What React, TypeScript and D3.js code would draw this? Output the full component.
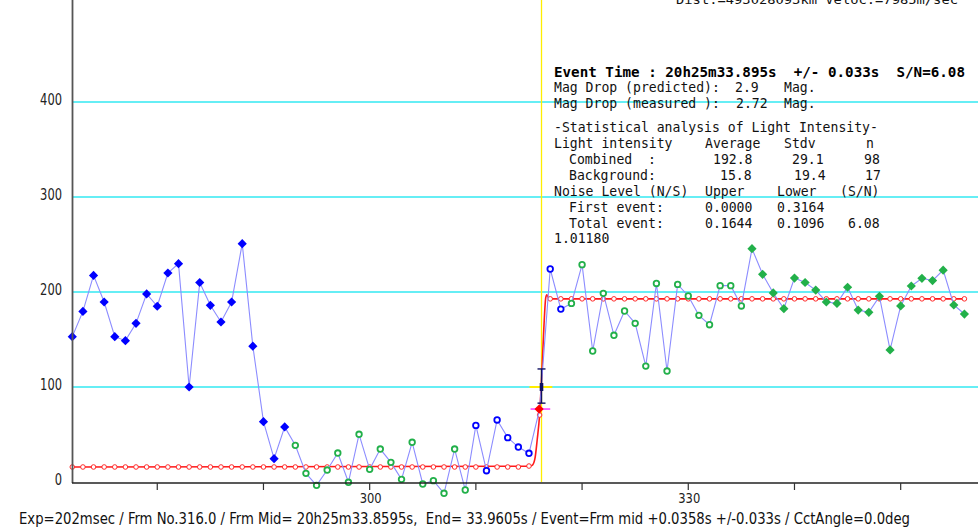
import React from "react";
import * as d3 from "d3";

const W = 978;
const H = 528;

const firstFrame = 272;
const values: number[] = [
  153, 179.6, 217.5, 189.5, 153, 148.8, 167, 198, 185, 220,
  229.8, 100, 210, 186, 168.4, 189.5, 250.9, 143, 63.5, 24.6,
  58, 38.6, 9.1, -3.5, 12.6, 30.5, -0.3, 50.2, 13.3, 34.7,
  20.7, 2.8, 41.8, -2.1, 1.4, -11.9, 34.7, -8.4, 59.6, 11.9,
  65.3, 46.7, 36.8, 30.2, 76.8, 224.2, 182, 188, 228.8, 137.9,
  198.6, 154.4, 180, 167, 122, 209, 116.8, 208, 195.8, 175.4,
  165.6, 206.7, 206.7, 185.3, 245.6, 218.6, 199, 182.5, 214.7, 210,
  202, 189.5, 188, 205, 181, 178.6, 195.4, 139, 185.3, 206.3,
  214.4, 212, 223, 186.3, 176.8,
];
const frames = values.map((_, i) => firstFrame + i);

// marker groups by frame range
const blueFilledRange = [272, 292];
const blueOpenRange = [310, 318];
const greenFilledRange = [336, 356];
const eventDataFrame = 316;

// model light curve
const baseLevel = 15.8;
const topLevel = 192.8;
const modelCurve: [number, number][] = [
  [272, 15.8], [315, 16.6], [315.3, 17.5], [315.55, 24], [315.78, 45],
  [316, 70.5], [316.2, 112], [316.4, 162], [316.58, 194], [316.68, 197],
  [316.85, 193.5], [317, 192.8], [356, 192.8],
];
const modelCircles: number[] = frames.map((f) =>
  f < 315 ? baseLevel : f === 315 ? 16.8 : f === 316 ? 70.5 : topLevel
);

const eventFrame = 316.18;
const errorBar = { low: 83, mid: 100, high: 119 };
const midLevelSpan = [315.05, 317.2];
const measuredSpan = [315.15, 317.0];

const yTicks = [0, 100, 200, 300, 400];
const gridLines = [100, 200, 300, 400];
const xTicks = [280, 290, 300, 310, 320, 330, 340, 350];
const xLabels = [300, 330];

const topInfo = "Dist.=493028093km Veloc.=7985m/sec";
const eventTitle = "Event Time : 20h25m33.895s  +/- 0.033s  S/N=6.08";
const infoRows: { y: number; cells: [string, number][] }[] = [
  { y: 92, cells: [["Mag Drop (predicted):", 554], ["2.9", 735], ["Mag.", 784]] },
  { y: 108, cells: [["Mag Drop (measured ):", 554], ["2.72", 736], ["Mag.", 784]] },
  { y: 132, cells: [["-Statistical analysis of Light Intensity-", 554]] },
  { y: 148, cells: [["Light intensity", 554], ["Average", 705], ["Stdv", 784], ["n", 866]] },
  { y: 164, cells: [["Combined  :", 569], ["192.8", 713], ["29.1", 792], ["98", 864]] },
  { y: 180, cells: [["Background:", 569], ["15.8", 720], ["19.4", 794], ["17", 865]] },
  { y: 196, cells: [["Noise Level (N/S)", 554], ["Upper", 705], ["Lower", 777], ["(S/N)", 840]] },
  { y: 212, cells: [["First event:", 569], ["0.0000", 705], ["0.3164", 777]] },
  { y: 228, cells: [["Total event:", 569], ["0.1644", 705], ["0.1096", 777], ["6.08", 848]] },
  { y: 243, cells: [["1.01180", 554]] },
];
const bottomText =
  "Exp=202msec / Frm No.316.0 / Frm Mid= 20h25m33.8595s,  End= 33.9605s / Event=Frm mid +0.0358s +/-0.033s / CctAngle=0.0deg";

const x = d3.scaleLinear().domain([272, 357.28]).range([72.3, 978]);
const y = d3.scaleLinear().domain([0, 400]).range([482, 102]);

const inR = (f: number, r: number[]) => f >= r[0] && f <= r[1];

const MONO = "'DejaVu Sans Mono', monospace";
const NARROW = "'Liberation Sans Narrow', 'DejaVu Sans Condensed', 'Liberation Sans', sans-serif";
const CW = 7.9;

function Diamond({ cx, cy, fill }: { cx: number; cy: number; fill: string }) {
  const s = 4.6;
  return (
    <path
      d={`M${cx},${cy - s}L${cx + s},${cy}L${cx},${cy + s}L${cx - s},${cy}Z`}
      fill={fill}
    />
  );
}

export default function App() {
  const dataLine = d3
    .line<number>()
    .x((_, i) => x(frames[i]))
    .y((v) => y(v))(values) as string;
  const modelLine = d3
    .line<[number, number]>()
    .x((d) => x(d[0]))
    .y((d) => y(d[1]))
    .curve(d3.curveMonotoneX)(modelCurve) as string;

  const blue = "#0000ff";
  const green = "#22b04a";

  return (
    <svg
      width={W}
      height={H}
      style={{ position: "absolute", left: 0, top: 0, background: "#fff" }}
    >
      <rect x={0} y={0} width={W} height={H} fill="#fff" />
      {gridLines.map((g) => (
        <line key={g} x1={73} x2={W} y1={y(g)} y2={y(g)} stroke="#33e8f2" strokeWidth={1.7} />
      ))}
      {/* event vertical */}
      <line x1={x(eventFrame)} x2={x(eventFrame)} y1={0} y2={482} stroke="#ffee00" strokeWidth={1.3} />

      {/* model */}
      <path d={modelLine} fill="none" stroke="#ff1a1a" strokeWidth={1.6} />
      {frames.map((f, i) => (
        <circle key={"m" + f} cx={x(f)} cy={y(modelCircles[i])} r={2.3} fill="#fff" stroke="#ff2a2a" strokeWidth={1} />
      ))}

      {/* data line */}
      <path d={dataLine} fill="none" stroke="#8c8cff" strokeWidth={1.1} />

      {/* markers */}
      {frames.map((f, i) => {
        const cx = x(f);
        const cy = y(values[i]);
        if (inR(f, blueFilledRange)) return <Diamond key={f} cx={cx} cy={cy} fill={blue} />;
        if (inR(f, greenFilledRange)) return <Diamond key={f} cx={cx} cy={cy} fill={green} />;
        if (f === eventDataFrame) return null;
        const col = inR(f, blueOpenRange) ? blue : green;
        return <circle key={f} cx={cx} cy={cy} r={2.8} fill="#fff" stroke={col} strokeWidth={1.8} />;
      })}

      {/* event markers */}
      <line x1={x(midLevelSpan[0])} x2={x(midLevelSpan[1])} y1={y(errorBar.mid)} y2={y(errorBar.mid)} stroke="#ffee00" strokeWidth={2} />
      <line x1={x(measuredSpan[0])} x2={x(measuredSpan[1])} y1={y(values[eventDataFrame - firstFrame])} y2={y(values[eventDataFrame - firstFrame])} stroke="#ff33ff" strokeWidth={1.5} />
      <g stroke="#101060" strokeWidth={1.4}>
        <line x1={x(eventFrame)} x2={x(eventFrame)} y1={y(errorBar.high)} y2={y(errorBar.low)} />
        <line x1={x(eventFrame) - 4} x2={x(eventFrame) + 4} y1={y(errorBar.high)} y2={y(errorBar.high)} />
        <line x1={x(eventFrame) - 4} x2={x(eventFrame) + 4} y1={y(errorBar.low)} y2={y(errorBar.low)} />
        <rect x={x(eventFrame) - 1.8} y={y(errorBar.mid) - 4} width={3.6} height={8} fill="#101060" stroke="none" />
      </g>
      <Diamond cx={x(eventDataFrame) - 0.5} cy={y(values[eventDataFrame - firstFrame])} fill="#ff0000" />

      {/* axes */}
      <line x1={72.5} x2={72.5} y1={0} y2={483} stroke="#555" strokeWidth={1.8} />
      <line x1={72} x2={W} y1={483} y2={483} stroke="#222" strokeWidth={1.5} />
      {xTicks.map((t) => (
        <line key={t} x1={x(t)} x2={x(t)} y1={483} y2={490} stroke="#333" strokeWidth={1.2} />
      ))}
      {yTicks.map((t) => (
        <text
          key={t}
          x={62}
          y={y(t) + 2.8}
          textAnchor="end"
          fontFamily={NARROW}
          fontSize={15.5}
          fill="#222"
          textLength={String(t).length * 7.3}
          lengthAdjust="spacingAndGlyphs"
        >
          {t}
        </text>
      ))}
      {xLabels.map((t) => (
        <text
          key={t}
          x={x(t) + 1}
          y={503}
          textAnchor="middle"
          fontFamily={NARROW}
          fontSize={14.5}
          fill="#222"
          textLength={22}
          lengthAdjust="spacingAndGlyphs"
        >
          {t}
        </text>
      ))}

      {/* info text */}
      <text x={676} y={4} fontFamily={MONO} fontSize={13} fill="#111" textLength={282} lengthAdjust="spacingAndGlyphs">
        {topInfo}
      </text>
      <text x={554} y={76.5} fontFamily={MONO} fontWeight="bold" fontSize={14.5} fill="#000" textLength={411} lengthAdjust="spacingAndGlyphs" style={{ whiteSpace: "pre" }}>
        {eventTitle}
      </text>
      {infoRows.map((row) =>
        row.cells.map(([s, cx], j) => (
          <text
            key={row.y + "-" + j}
            x={cx}
            y={row.y}
            fontFamily={MONO}
            fontSize={14}
            fill="#111"
            textLength={s.length * CW}
            lengthAdjust="spacingAndGlyphs"
            style={{ whiteSpace: "pre" }}
          >
            {s}
          </text>
        ))
      )}
      <text x={19} y={524} fontFamily={NARROW} fontSize={15} fill="#111" textLength={891} lengthAdjust="spacingAndGlyphs" style={{ whiteSpace: "pre" }}>
        {bottomText}
      </text>
    </svg>
  );
}
